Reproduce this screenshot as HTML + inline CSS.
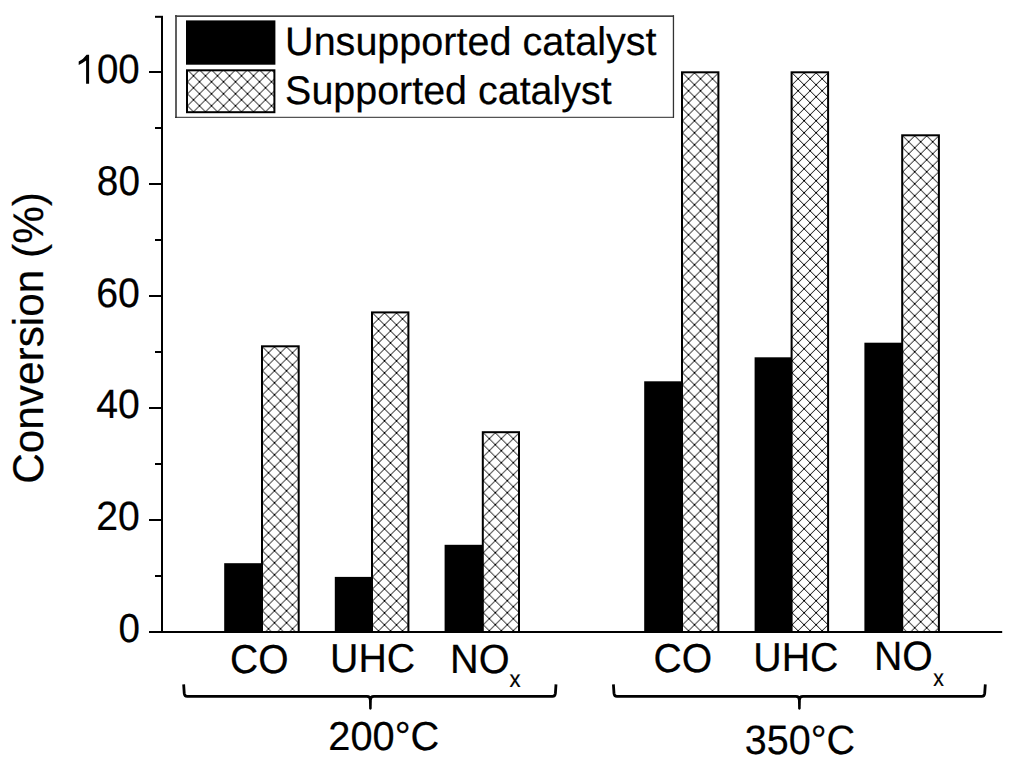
<!DOCTYPE html>
<html><head><meta charset="utf-8"><style>
html,body{margin:0;padding:0;background:#fff;}
body{width:1024px;height:770px;overflow:hidden;}
svg{display:block;}
text{font-family:"Liberation Sans", sans-serif;fill:#000;text-rendering:geometricPrecision;stroke:#000;stroke-width:0.2px;}
</style></head><body>
<svg width="1024" height="770" viewBox="0 0 1024 770">
<defs><pattern id="h0" patternUnits="userSpaceOnUse" x="262.50" y="346.80" width="12" height="12"><path d="M0,0L12,12M12,0L0,12M-6,6L6,18M6,-6L18,6M6,-6L-6,6M18,6L6,18" stroke="#000" stroke-width="1" fill="none"/></pattern><pattern id="h1" patternUnits="userSpaceOnUse" x="372.50" y="312.90" width="12" height="12"><path d="M0,0L12,12M12,0L0,12M-6,6L6,18M6,-6L18,6M6,-6L-6,6M18,6L6,18" stroke="#000" stroke-width="1" fill="none"/></pattern><pattern id="h2" patternUnits="userSpaceOnUse" x="483.30" y="432.70" width="12" height="12"><path d="M0,0L12,12M12,0L0,12M-6,6L6,18M6,-6L18,6M6,-6L-6,6M18,6L6,18" stroke="#000" stroke-width="1" fill="none"/></pattern><pattern id="h3" patternUnits="userSpaceOnUse" x="682.50" y="72.80" width="12" height="12"><path d="M0,0L12,12M12,0L0,12M-6,6L6,18M6,-6L18,6M6,-6L-6,6M18,6L6,18" stroke="#000" stroke-width="1" fill="none"/></pattern><pattern id="h4" patternUnits="userSpaceOnUse" x="792.10" y="72.80" width="12" height="12"><path d="M0,0L12,12M12,0L0,12M-6,6L6,18M6,-6L18,6M6,-6L-6,6M18,6L6,18" stroke="#000" stroke-width="1" fill="none"/></pattern><pattern id="h5" patternUnits="userSpaceOnUse" x="902.70" y="135.80" width="12" height="12"><path d="M0,0L12,12M12,0L0,12M-6,6L6,18M6,-6L18,6M6,-6L-6,6M18,6L6,18" stroke="#000" stroke-width="1" fill="none"/></pattern><pattern id="hl" patternUnits="userSpaceOnUse" x="187.50" y="69.80" width="12" height="12"><path d="M0,0L12,12M12,0L0,12M-6,6L6,18M6,-6L18,6M6,-6L-6,6M18,6L6,18" stroke="#000" stroke-width="1" fill="none"/></pattern></defs>
<rect width="1024" height="770" fill="#fff"/>
<rect x="175" y="15" width="2" height="103" fill="#606060"/><rect x="175" y="15.3" width="499" height="1.7" fill="#444"/><rect x="672.8" y="15.3" width="1.3" height="102.5" fill="#333"/><rect x="175" y="116.8" width="499" height="1" fill="#2a2a2a"/>
<rect x="224.20" y="563.20" width="37.80" height="68.80" fill="#000"/>
<rect x="262.00" y="346.30" width="36.70" height="285.70" fill="url(#h0)" stroke="#000" stroke-width="2"/>
<rect x="334.80" y="576.90" width="37.20" height="55.10" fill="#000"/>
<rect x="372.00" y="312.40" width="36.40" height="319.60" fill="url(#h1)" stroke="#000" stroke-width="2"/>
<rect x="444.60" y="544.80" width="38.20" height="87.20" fill="#000"/>
<rect x="482.80" y="432.20" width="36.20" height="199.80" fill="url(#h2)" stroke="#000" stroke-width="2"/>
<rect x="644.20" y="381.30" width="37.80" height="250.70" fill="#000"/>
<rect x="682.00" y="72.30" width="36.40" height="559.70" fill="url(#h3)" stroke="#000" stroke-width="2"/>
<rect x="754.60" y="357.30" width="37.00" height="274.70" fill="#000"/>
<rect x="791.60" y="72.30" width="36.50" height="559.70" fill="url(#h4)" stroke="#000" stroke-width="2"/>
<rect x="864.40" y="342.70" width="37.80" height="289.30" fill="#000"/>
<rect x="902.20" y="135.30" width="36.70" height="496.70" fill="url(#h5)" stroke="#000" stroke-width="2"/>
<rect x="161" y="15.8" width="2" height="617.2" fill="#000"/>
<rect x="149" y="631" width="853.2" height="2" fill="#000"/>
<rect x="149" y="631.0" width="12" height="2" fill="#000"/>
<rect x="149" y="519.0" width="12" height="2" fill="#000"/>
<rect x="149" y="407.0" width="12" height="2" fill="#000"/>
<rect x="149" y="295.0" width="12" height="2" fill="#000"/>
<rect x="149" y="183.0" width="12" height="2" fill="#000"/>
<rect x="149" y="71.0" width="12" height="2" fill="#000"/>
<rect x="155" y="575.0" width="6" height="2" fill="#000"/>
<rect x="155" y="463.0" width="6" height="2" fill="#000"/>
<rect x="155" y="351.0" width="6" height="2" fill="#000"/>
<rect x="155" y="239.0" width="6" height="2" fill="#000"/>
<rect x="155" y="127.0" width="6" height="2" fill="#000"/>
<rect x="155" y="15.8" width="6" height="2" fill="#000"/>
<text transform="matrix(0.9684,0,0,1.0385,96.85,194.98)" font-size="40">80</text>
<text transform="matrix(0.9826,0,0,1.0310,96.24,306.77)" font-size="40">60</text>
<text transform="matrix(0.9795,0,0,1.0210,96.27,418.49)" font-size="40">40</text>
<text transform="matrix(0.9795,0,0,1.0210,96.28,530.29)" font-size="40">20</text>
<text transform="matrix(0.9638,0,0,1.0075,118.43,642.01)" font-size="40">0</text>
<text transform="matrix(0.9619,0,0,1.0245,96.93,83.09)" font-size="40">00</text>
<path d="M86.1,83.8 L86.1,60.4 Q82.8,62.9 78.7,64.9 L78.7,61.6 Q83.6,58.9 86.6,54.7 L89.1,54.7 L89.1,83.8 Z" fill="#000"/>
<text transform="matrix(0.9759,0,0,1.0101,229.94,673.08)" font-size="40">CO</text>
<text transform="matrix(0.9814,0,0,1.0122,330.11,672.34)" font-size="40">UHC</text>
<text transform="matrix(0.9920,0,0,1.0206,450.00,672.58)" font-size="40">NO</text>
<text transform="matrix(0.9197,0,0,0.9910,509.42,686.70)" font-size="24">x</text>
<text transform="matrix(0.9776,0,0,1.0101,653.54,672.18)" font-size="40">CO</text>
<text transform="matrix(0.9826,0,0,1.0122,753.31,671.34)" font-size="40">UHC</text>
<text transform="matrix(0.9793,0,0,1.0275,873.94,670.47)" font-size="40">NO</text>
<text transform="matrix(0.8837,0,0,0.9910,933.24,685.80)" font-size="24">x</text>
<text transform="matrix(0.9944,0,0,1.0105,328.35,750.09)" font-size="40">200°C</text>
<text transform="matrix(0.9882,0,0,1.0246,744.83,753.99)" font-size="40">350°C</text>
<text transform="matrix(0.9882,0,0,0.9990,285.09,54.87)" font-size="40">Unsupported catalyst</text>
<text transform="matrix(0.9857,0,0,0.9990,285.08,103.77)" font-size="40">Supported catalyst</text>
<text transform="matrix(0,-0.9622,0.9745,0,43.28,483.82)" font-size="44">Conversion (%)</text>
<path d="M183.65,684.3 L184.25,693.40 Q184.55,696.40 187.15,696.40 L366.90,696.40 Q370.40,696.40 370.40,699.90 M370.40,699.90 Q370.40,696.40 373.90,696.40 L552.50,696.40 Q555.10,696.40 555.40,693.40 L556.00,684.3" fill="none" stroke="#000" stroke-width="2.8" stroke-linejoin="round"/><path d="M368.90,697.40 L369.15,708.8 Q370.40,710.8 371.65,708.8 L371.90,697.40 Z" fill="#000"/>
<path d="M613.40,684.3 L614.00,693.40 Q614.30,696.40 616.90,696.40 L795.90,696.40 Q799.40,696.40 799.40,699.90 M799.40,699.90 Q799.40,696.40 802.90,696.40 L981.80,696.40 Q984.40,696.40 984.70,693.40 L985.30,684.3" fill="none" stroke="#000" stroke-width="2.8" stroke-linejoin="round"/><path d="M797.90,697.40 L798.15,708.8 Q799.40,710.8 800.65,708.8 L800.90,697.40 Z" fill="#000"/>
<rect x="186" y="20.4" width="89.4" height="44.3" fill="#000"/>
<rect x="187" y="70.3" width="87.4" height="41.9" fill="url(#hl)" stroke="#000" stroke-width="2"/>
</svg>
</body></html>
